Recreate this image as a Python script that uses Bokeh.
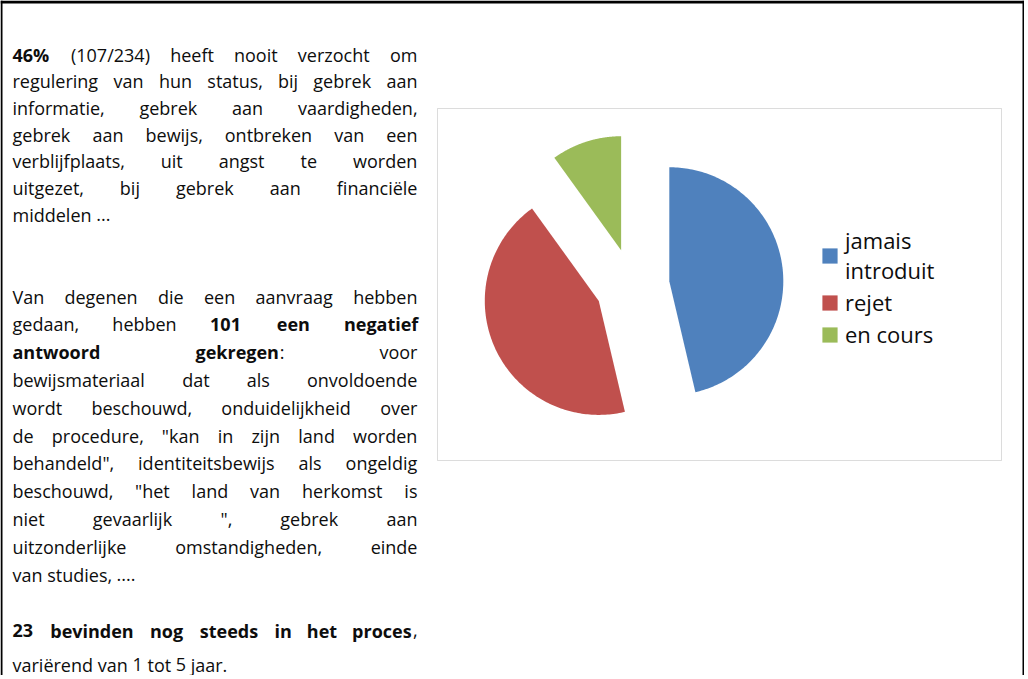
import numpy as np
from bokeh.plotting import figure
from bokeh.models import Range1d, Span, BoxAnnotation, Legend, LegendItem, ColumnDataSource
from bokeh.core.properties import value
from bokeh.embed import file_html
from bokeh.resources import INLINE

# ---------------- chart data ----------------
categories = ["jamais\nintroduit", "rejet", "en cours"]
counts = [107, 101, 23]
slice_colors = ["#4F81BD", "#C0504D", "#9BBB59"]

# ---------------- accompanying text (** marks bold) ----------------
paragraph_1 = [
    "**46%** (107/234) heeft nooit verzocht om",
    "regulering van hun status, bij gebrek aan",
    "informatie, gebrek aan vaardigheden,",
    "gebrek aan bewijs, ontbreken van een",
    "verblijfplaats, uit angst te worden",
    "uitgezet, bij gebrek aan financiële",
    "middelen ...",
]
paragraph_2 = [
    "Van degenen die een aanvraag hebben",
    "gedaan, hebben **101 een negatief**",
    "**antwoord gekregen**: voor",
    "bewijsmateriaal dat als onvoldoende",
    "wordt beschouwd, onduidelijkheid over",
    "de procedure, \"kan in zijn land worden",
    "behandeld\", identiteitsbewijs als ongeldig",
    "beschouwd, \"het land van herkomst is",
    "niet gevaarlijk \", gebrek aan",
    "uitzonderlijke omstandigheden, einde",
    "van studies, ....",
]
paragraph_3 = [
    "**23 bevinden nog steeds in het proces**,",
    "variërend van 1 tot 5 jaar.",
]

# ---------------- layout / style ----------------
W, H = 1024, 675            # figure size in px (coordinates = page pixels)
TEXT_LEFT, TEXT_RIGHT = 12, 417
FONT = "Open Sans"
FONT_PX = 18
PARA_LAYOUT = [(54, 26.7), (296, 27.8), (630, 34.0)]  # first baseline, line pitch

EM = {' ': 0.26, '"': 0.401, '%': 0.828, '(': 0.295, ')': 0.295, ',': 0.245,
      '.': 0.266, '/': 0.368, ':': 0.266, 'V': 0.590, 'ë': 0.561,
      'a': .556, 'b': .613, 'c': .476, 'd': .613, 'e': .561, 'f': .339, 'g': .548,
      'h': .614, 'i': .253, 'j': .253, 'k': .525, 'l': .253, 'm': .930, 'n': .614,
      'o': .604, 'p': .613, 'q': .613, 'r': .408, 's': .477, 't': .353, 'u': .614,
      'v': .501, 'w': .778, 'x': .524, 'y': .502, 'z': .477}
for d in "0123456789":
    EM[d] = 0.572


def seg_width(t, bold):
    """Estimated rendered width in px."""
    w = sum(EM.get(c, 0.55) for c in t) * FONT_PX
    return w * (1.08 if bold else 1.0)


def parse(line):
    words, cur = [], []
    for i, part in enumerate(line.split("**")):
        bold = (i % 2 == 1)
        for j, pc in enumerate(part.split(" ")):
            if j > 0 and cur:
                words.append(cur)
                cur = []
            if pc:
                cur.append((pc, bold))
    if cur:
        words.append(cur)
    return words


reg = dict(x=[], y=[], text=[])
bld = dict(x=[], y=[], text=[])
for para, (y0, pitch) in zip([paragraph_1, paragraph_2, paragraph_3], PARA_LAYOUT):
    for li, line in enumerate(para):
        y = y0 + li * pitch
        words = parse(line)
        widths = [sum(seg_width(t, b) for t, b in w) for w in words]
        justified = li < len(para) - 1 and len(words) > 1
        if justified:
            gap = (TEXT_RIGHT - TEXT_LEFT - sum(widths)) / (len(words) - 1)
        else:
            gap = EM[' '] * FONT_PX
        x = TEXT_LEFT
        for k, (w, ww) in enumerate(zip(words, widths)):
            if justified and k == len(words) - 1:
                x = TEXT_RIGHT - ww
            sx = x
            for t, b in w:
                tgt = bld if b else reg
                tgt["x"].append(sx)
                tgt["y"].append(y)
                tgt["text"].append(t)
                sx += seg_width(t, b)
            x += ww + gap

p = figure(width=W, height=H, x_range=Range1d(0, W), y_range=Range1d(H, 0),
           x_axis_type=None, y_axis_type=None, output_backend="svg",
           toolbar_location=None, min_border=0, outline_line_color=None,
           background_fill_color="white", border_fill_color="white")

# page frame (top, left, right)
p.add_layout(Span(location=1.5, dimension="width", line_color="black", line_width=3))
p.add_layout(Span(location=1, dimension="height", line_color="black", line_width=2))
p.add_layout(Span(location=W - 1, dimension="height", line_color="black", line_width=2))

# text
p.text("x", "y", "text", source=ColumnDataSource(reg), text_font=value(FONT),
       text_font_size=value(f"{FONT_PX}px"), text_baseline="alphabetic",
       text_align="left", text_color="#0d0d0d")
p.text("x", "y", "text", source=ColumnDataSource(bld), text_font=value(FONT),
       text_font_size=value(f"{FONT_PX}px"), text_baseline="alphabetic",
       text_align="left", text_font_style="bold", text_color="#0d0d0d")

# chart box
p.add_layout(BoxAnnotation(left=437, right=1001, top=108, bottom=460,
                           fill_alpha=0, line_color="#8a8a8a", line_width=1))

# exploded pie (clockwise from 12 o'clock)
CX, CY, R, EXPLODE = 632, 285, 114, 0.325
total = float(sum(counts))
angles = np.cumsum([0] + counts) / total * 2 * np.pi
xs, ys = [], []
for a0, a1 in zip(angles[:-1], angles[1:]):
    mid = 0.5 * (a0 + a1)
    ox = CX + EXPLODE * R * np.sin(mid)
    oy = CY - EXPLODE * R * np.cos(mid)
    t = np.linspace(a0, a1, 160)
    xs.append(np.concatenate([[ox], ox + R * np.sin(t)]))
    ys.append(np.concatenate([[oy], oy - R * np.cos(t)]))
src = ColumnDataSource(dict(xs=xs, ys=ys, color=slice_colors, label=categories))
r = p.patches("xs", "ys", source=src, fill_color="color", line_color=None)

legend = Legend(items=[LegendItem(label=c, renderers=[r], index=i) for i, c in enumerate(categories)],
                location=(820, 326), orientation="vertical", padding=0, margin=0,
                spacing=2, glyph_width=19, glyph_height=19, label_standoff=6,
                label_text_font=FONT, label_text_font_size="22px", label_text_color="#0d0d0d",
                border_line_color=None, background_fill_alpha=0)
p.add_layout(legend)

open("out.html", "w").write(file_html(p, INLINE))
